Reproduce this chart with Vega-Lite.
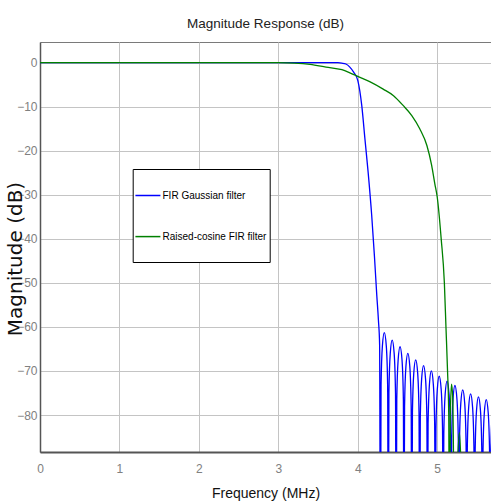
{
  "$schema": "https://vega.github.io/schema/vega-lite/v6.json",
  "width": 451,
  "height": 410,
  "autosize": {"type": "none"},
  "padding": {"left": 40, "top": 42, "right": 0, "bottom": 52},
  "background": "white",
  "title": {"text": "Magnitude Response (dB)", "font": "Liberation Sans", "fontSize": 13.5, "fontWeight": "normal", "color": "#222222", "offset": 12, "anchor": "middle"},
  "data": {"values": [
    {"freq": 0, "mag": 0, "filter": "FIR Gaussian filter"},
    {"freq": 3.75, "mag": 0, "filter": "FIR Gaussian filter"},
    {"freq": 3.8, "mag": -0.1, "filter": "FIR Gaussian filter"},
    {"freq": 3.85, "mag": -0.3, "filter": "FIR Gaussian filter"},
    {"freq": 3.9, "mag": -1.0, "filter": "FIR Gaussian filter"},
    {"freq": 3.95, "mag": -2.2, "filter": "FIR Gaussian filter"},
    {"freq": 4.0, "mag": -4.0, "filter": "FIR Gaussian filter"},
    {"freq": 4.05, "mag": -9.7, "filter": "FIR Gaussian filter"},
    {"freq": 4.09, "mag": -17.3, "filter": "FIR Gaussian filter"},
    {"freq": 4.13, "mag": -24.8, "filter": "FIR Gaussian filter"},
    {"freq": 4.175, "mag": -34.6, "filter": "FIR Gaussian filter"},
    {"freq": 4.21, "mag": -44, "filter": "FIR Gaussian filter"},
    {"freq": 4.24, "mag": -53, "filter": "FIR Gaussian filter"},
    {"freq": 4.26, "mag": -58.5, "filter": "FIR Gaussian filter"},
    {"freq": 4.275, "mag": -64, "filter": "FIR Gaussian filter"},
    {"freq": 4.285, "mag": -120, "filter": "FIR Gaussian filter"},
    {"freq": 4.293, "mag": -73.3, "filter": "FIR Gaussian filter"},
    {"freq": 4.31, "mag": -64.3, "filter": "FIR Gaussian filter"},
    {"freq": 4.334, "mag": -61.3, "filter": "FIR Gaussian filter"},
    {"freq": 4.359, "mag": -64.3, "filter": "FIR Gaussian filter"},
    {"freq": 4.376, "mag": -73.3, "filter": "FIR Gaussian filter"},
    {"freq": 4.384, "mag": -120, "filter": "FIR Gaussian filter"},
    {"freq": 4.392, "mag": -75.0, "filter": "FIR Gaussian filter"},
    {"freq": 4.409, "mag": -66.0, "filter": "FIR Gaussian filter"},
    {"freq": 4.433, "mag": -63.0, "filter": "FIR Gaussian filter"},
    {"freq": 4.458, "mag": -66.0, "filter": "FIR Gaussian filter"},
    {"freq": 4.475, "mag": -75.0, "filter": "FIR Gaussian filter"},
    {"freq": 4.483, "mag": -120, "filter": "FIR Gaussian filter"},
    {"freq": 4.491, "mag": -76.5, "filter": "FIR Gaussian filter"},
    {"freq": 4.508, "mag": -67.5, "filter": "FIR Gaussian filter"},
    {"freq": 4.532, "mag": -64.5, "filter": "FIR Gaussian filter"},
    {"freq": 4.557, "mag": -67.5, "filter": "FIR Gaussian filter"},
    {"freq": 4.574, "mag": -76.5, "filter": "FIR Gaussian filter"},
    {"freq": 4.581, "mag": -120, "filter": "FIR Gaussian filter"},
    {"freq": 4.589, "mag": -78.0, "filter": "FIR Gaussian filter"},
    {"freq": 4.606, "mag": -69.0, "filter": "FIR Gaussian filter"},
    {"freq": 4.63, "mag": -66.0, "filter": "FIR Gaussian filter"},
    {"freq": 4.655, "mag": -69.0, "filter": "FIR Gaussian filter"},
    {"freq": 4.672, "mag": -78.0, "filter": "FIR Gaussian filter"},
    {"freq": 4.68, "mag": -120, "filter": "FIR Gaussian filter"},
    {"freq": 4.688, "mag": -79.5, "filter": "FIR Gaussian filter"},
    {"freq": 4.705, "mag": -70.5, "filter": "FIR Gaussian filter"},
    {"freq": 4.729, "mag": -67.5, "filter": "FIR Gaussian filter"},
    {"freq": 4.754, "mag": -70.5, "filter": "FIR Gaussian filter"},
    {"freq": 4.771, "mag": -79.5, "filter": "FIR Gaussian filter"},
    {"freq": 4.779, "mag": -120, "filter": "FIR Gaussian filter"},
    {"freq": 4.787, "mag": -80.8, "filter": "FIR Gaussian filter"},
    {"freq": 4.804, "mag": -71.8, "filter": "FIR Gaussian filter"},
    {"freq": 4.828, "mag": -68.8, "filter": "FIR Gaussian filter"},
    {"freq": 4.853, "mag": -71.8, "filter": "FIR Gaussian filter"},
    {"freq": 4.87, "mag": -80.8, "filter": "FIR Gaussian filter"},
    {"freq": 4.877, "mag": -120, "filter": "FIR Gaussian filter"},
    {"freq": 4.885, "mag": -82.0, "filter": "FIR Gaussian filter"},
    {"freq": 4.902, "mag": -73.0, "filter": "FIR Gaussian filter"},
    {"freq": 4.926, "mag": -70.0, "filter": "FIR Gaussian filter"},
    {"freq": 4.951, "mag": -73.0, "filter": "FIR Gaussian filter"},
    {"freq": 4.968, "mag": -82.0, "filter": "FIR Gaussian filter"},
    {"freq": 4.976, "mag": -120, "filter": "FIR Gaussian filter"},
    {"freq": 4.984, "mag": -83.2, "filter": "FIR Gaussian filter"},
    {"freq": 5.001, "mag": -74.2, "filter": "FIR Gaussian filter"},
    {"freq": 5.025, "mag": -71.2, "filter": "FIR Gaussian filter"},
    {"freq": 5.05, "mag": -74.2, "filter": "FIR Gaussian filter"},
    {"freq": 5.067, "mag": -83.2, "filter": "FIR Gaussian filter"},
    {"freq": 5.075, "mag": -120, "filter": "FIR Gaussian filter"},
    {"freq": 5.083, "mag": -84.3, "filter": "FIR Gaussian filter"},
    {"freq": 5.1, "mag": -75.3, "filter": "FIR Gaussian filter"},
    {"freq": 5.124, "mag": -72.3, "filter": "FIR Gaussian filter"},
    {"freq": 5.149, "mag": -75.3, "filter": "FIR Gaussian filter"},
    {"freq": 5.166, "mag": -84.3, "filter": "FIR Gaussian filter"},
    {"freq": 5.174, "mag": -120, "filter": "FIR Gaussian filter"},
    {"freq": 5.182, "mag": -85.3, "filter": "FIR Gaussian filter"},
    {"freq": 5.199, "mag": -76.3, "filter": "FIR Gaussian filter"},
    {"freq": 5.223, "mag": -73.3, "filter": "FIR Gaussian filter"},
    {"freq": 5.248, "mag": -76.3, "filter": "FIR Gaussian filter"},
    {"freq": 5.265, "mag": -85.3, "filter": "FIR Gaussian filter"},
    {"freq": 5.272, "mag": -120, "filter": "FIR Gaussian filter"},
    {"freq": 5.28, "mag": -86.3, "filter": "FIR Gaussian filter"},
    {"freq": 5.297, "mag": -77.3, "filter": "FIR Gaussian filter"},
    {"freq": 5.321, "mag": -74.3, "filter": "FIR Gaussian filter"},
    {"freq": 5.346, "mag": -77.3, "filter": "FIR Gaussian filter"},
    {"freq": 5.363, "mag": -86.3, "filter": "FIR Gaussian filter"},
    {"freq": 5.371, "mag": -120, "filter": "FIR Gaussian filter"},
    {"freq": 5.379, "mag": -87.2, "filter": "FIR Gaussian filter"},
    {"freq": 5.396, "mag": -78.2, "filter": "FIR Gaussian filter"},
    {"freq": 5.42, "mag": -75.2, "filter": "FIR Gaussian filter"},
    {"freq": 5.445, "mag": -78.2, "filter": "FIR Gaussian filter"},
    {"freq": 5.462, "mag": -87.2, "filter": "FIR Gaussian filter"},
    {"freq": 5.47, "mag": -120, "filter": "FIR Gaussian filter"},
    {"freq": 5.478, "mag": -87.9, "filter": "FIR Gaussian filter"},
    {"freq": 5.495, "mag": -78.9, "filter": "FIR Gaussian filter"},
    {"freq": 5.519, "mag": -75.9, "filter": "FIR Gaussian filter"},
    {"freq": 5.544, "mag": -78.9, "filter": "FIR Gaussian filter"},
    {"freq": 5.561, "mag": -87.9, "filter": "FIR Gaussian filter"},
    {"freq": 5.568, "mag": -120, "filter": "FIR Gaussian filter"},
    {"freq": 5.576, "mag": -88.5, "filter": "FIR Gaussian filter"},
    {"freq": 5.593, "mag": -79.5, "filter": "FIR Gaussian filter"},
    {"freq": 5.617, "mag": -76.5, "filter": "FIR Gaussian filter"},
    {"freq": 5.642, "mag": -79.5, "filter": "FIR Gaussian filter"},
    {"freq": 5.659, "mag": -88.5, "filter": "FIR Gaussian filter"},
    {"freq": 5.667, "mag": -120, "filter": "FIR Gaussian filter"},
    {"freq": 5.675, "mag": -88.8, "filter": "FIR Gaussian filter"},
    {"freq": 5.692, "mag": -79.8, "filter": "FIR Gaussian filter"},
    {"freq": 0, "mag": 0, "filter": "Raised-cosine FIR filter"},
    {"freq": 3.0, "mag": 0, "filter": "Raised-cosine FIR filter"},
    {"freq": 3.2, "mag": -0.1, "filter": "Raised-cosine FIR filter"},
    {"freq": 3.4, "mag": -0.4, "filter": "Raised-cosine FIR filter"},
    {"freq": 3.6, "mag": -1.0, "filter": "Raised-cosine FIR filter"},
    {"freq": 3.8, "mag": -1.6, "filter": "Raised-cosine FIR filter"},
    {"freq": 3.9, "mag": -2.3, "filter": "Raised-cosine FIR filter"},
    {"freq": 4.0, "mag": -3.1, "filter": "Raised-cosine FIR filter"},
    {"freq": 4.15, "mag": -4.3, "filter": "Raised-cosine FIR filter"},
    {"freq": 4.32, "mag": -6.0, "filter": "Raised-cosine FIR filter"},
    {"freq": 4.45, "mag": -7.5, "filter": "Raised-cosine FIR filter"},
    {"freq": 4.57, "mag": -9.7, "filter": "Raised-cosine FIR filter"},
    {"freq": 4.68, "mag": -12.0, "filter": "Raised-cosine FIR filter"},
    {"freq": 4.78, "mag": -15.0, "filter": "Raised-cosine FIR filter"},
    {"freq": 4.87, "mag": -18.8, "filter": "Raised-cosine FIR filter"},
    {"freq": 4.93, "mag": -23.3, "filter": "Raised-cosine FIR filter"},
    {"freq": 4.97, "mag": -27.5, "filter": "Raised-cosine FIR filter"},
    {"freq": 5.0, "mag": -30.5, "filter": "Raised-cosine FIR filter"},
    {"freq": 5.05, "mag": -40, "filter": "Raised-cosine FIR filter"},
    {"freq": 5.09, "mag": -50, "filter": "Raised-cosine FIR filter"},
    {"freq": 5.11, "mag": -60, "filter": "Raised-cosine FIR filter"},
    {"freq": 5.13, "mag": -70, "filter": "Raised-cosine FIR filter"},
    {"freq": 5.145, "mag": -80, "filter": "Raised-cosine FIR filter"},
    {"freq": 5.155, "mag": -120, "filter": "Raised-cosine FIR filter"},
    {"freq": 5.165, "mag": -80, "filter": "Raised-cosine FIR filter"},
    {"freq": 5.18, "mag": -73, "filter": "Raised-cosine FIR filter"},
    {"freq": 5.195, "mag": -76, "filter": "Raised-cosine FIR filter"},
    {"freq": 5.225, "mag": -120, "filter": "Raised-cosine FIR filter"},
    {"freq": 5.25, "mag": -95, "filter": "Raised-cosine FIR filter"},
    {"freq": 5.28, "mag": -84, "filter": "Raised-cosine FIR filter"},
    {"freq": 5.305, "mag": -95, "filter": "Raised-cosine FIR filter"},
    {"freq": 5.33, "mag": -120, "filter": "Raised-cosine FIR filter"},
    {"freq": 5.36, "mag": -100, "filter": "Raised-cosine FIR filter"},
    {"freq": 5.39, "mag": -93, "filter": "Raised-cosine FIR filter"},
    {"freq": 5.42, "mag": -100, "filter": "Raised-cosine FIR filter"},
    {"freq": 5.45, "mag": -120, "filter": "Raised-cosine FIR filter"}
  ]},
  "mark": {"type": "line", "clip": true, "interpolate": "monotone", "strokeWidth": 1.3},
  "encoding": {
    "x": {"field": "freq", "type": "quantitative",
      "scale": {"domain": [0, 5.677], "nice": false, "zero": false},
      "axis": {"title": "Frequency (MHz)", "values": [0, 1, 2, 3, 4, 5], "labelFlush": false,
        "labelBaseline": "alphabetic", "labelPadding": 20, "titleBaseline": "alphabetic", "titleY": 45,
        "domainWidth": 2}},
    "y": {"field": "mag", "type": "quantitative",
      "scale": {"domain": [-88.4, 4.7], "nice": false, "zero": false},
      "axis": {"title": "Magnitude (dB)", "values": [0, -10, -20, -30, -40, -50, -60, -70, -80], "labelFlush": false,
        "labelPadding": 3, "titleFont": "DejaVu Sans", "titleFontSize": 20, "titleFontWeight": "normal",
        "titleAngle": 270, "titleX": -19, "titleY": 216.5, "titleBaseline": "alphabetic", "titleAlign": "center",
        "domainWidth": 1.5}},
    "color": {"field": "filter", "type": "nominal",
      "scale": {"domain": ["FIR Gaussian filter", "Raised-cosine FIR filter"], "range": ["#0000ff", "#008000"]},
      "legend": {"title": " ", "titleOrient": "bottom", "titleFontSize": 1, "titlePadding": 16,
        "orient": "none", "legendX": 92.7, "legendY": 127,
        "strokeColor": "#000000", "fillColor": "#ffffff", "padding": 3, "rowPadding": 12.1,
        "symbolType": "M-1.067,0H0.054", "symbolSize": 1989, "symbolStrokeWidth": 1.5,
        "symbolFillColor": "transparent",
        "labelOffset": -20.2, "labelFont": "Liberation Sans", "labelFontSize": 10, "labelColor": "#000000"}}
  },
  "config": {
    "view": {"stroke": "#7a7a7a", "strokeWidth": 1},
    "axis": {"grid": true, "gridColor": "#c4c4c4", "gridWidth": 1, "ticks": false,
      "domainColor": "#555555", "labelColor": "#808080", "labelFont": "Liberation Sans", "labelFontSize": 12,
      "titleFont": "Liberation Sans", "titleFontSize": 14, "titleFontWeight": "normal", "titleColor": "#111111"}
  }
}
